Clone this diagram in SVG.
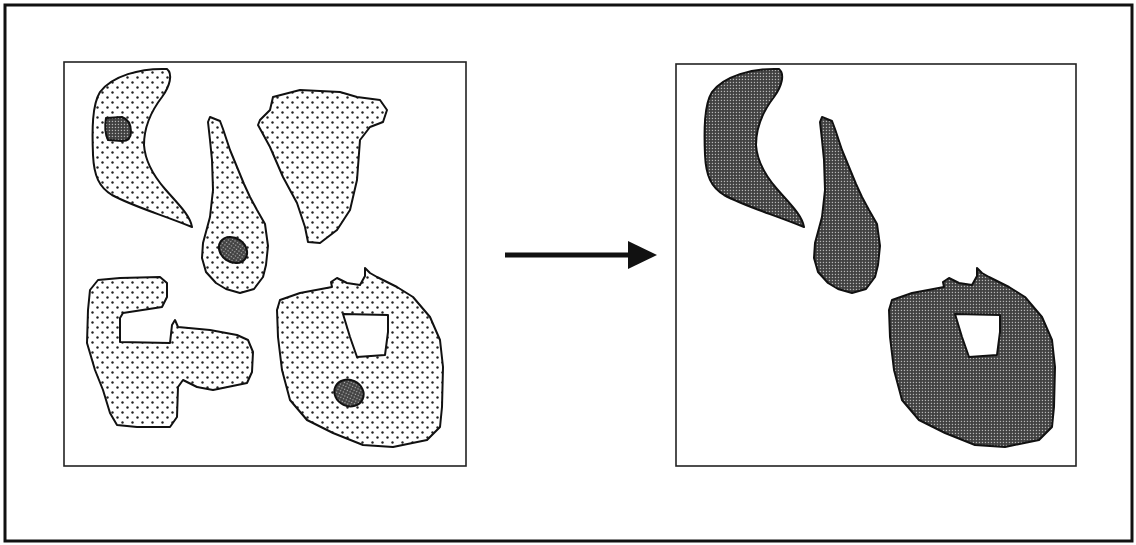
<svg xmlns="http://www.w3.org/2000/svg" width="1136" height="545" viewBox="0 0 1136 545">
<style>
.frame{fill:none;stroke:#111;stroke-width:3}
.box{fill:#fff;stroke:#222;stroke-width:1.6}
.dot{fill:url(#dots);stroke:#111;stroke-width:2;stroke-linejoin:round}
.dark{fill:url(#check);stroke:#111;stroke-width:2;stroke-linejoin:round}
.hole{fill:#fff;stroke:#111;stroke-width:2;stroke-linejoin:round}
.conn{stroke:#111;stroke-width:5;fill:none}
.head{fill:#111}
</style>
<defs>
<pattern id="dots" width="10" height="10" patternUnits="userSpaceOnUse">
<rect width="10" height="10" fill="#fff"/>
<circle cx="2.5" cy="2.5" r="1.2" fill="#222"/>
<circle cx="7.5" cy="7.5" r="1.2" fill="#222"/>
</pattern>
<pattern id="check" width="3" height="3" patternUnits="userSpaceOnUse">
<rect width="3" height="3" fill="#3e3e3e"/>
<rect x="0.8" y="0.8" width="1.3" height="1.3" fill="#b5b5b5"/>
</pattern>
<path id="boomer" d="M167,69 C140,68 112,76 100,92 C92,105 92,130 93,155 C94,176 99,187 112,195 C132,206 160,214 192,227 C190,215 178,204 165,189 C152,174 145,160 144,145 C144,125 152,110 162,97 C170,86 173,74 167,69 Z"/>
<path id="spike" d="M210,117 L220,121 L223,129 L230,150 L237,167 L244,184 L250,197 L257,210 L265,224 L268,246 L266,265 L263,277 L254,289 L240,293 L226,289 L216,283 L206,272 L202,258 L203,243 L210,217 L213,190 L212,160 L210,140 L208,122 Z"/>
<path id="blob" d="M280,300 L300,293 L332,287 L331,282 L337,278 L347,283 L360,285 L365,276 L365,268 L370,273 L377,277 L397,287 L413,297 L430,317 L440,340 L443,367 L442,407 L440,427 L427,440 L393,447 L363,445 L333,433 L307,420 L290,400 L282,370 L278,337 L277,310 Z"/>
<path id="blobhole" d="M343,314 L388,315 L388,332 L385,355 L357,357 L350,337 Z"/>
</defs>
<rect class="frame" x="5" y="5" width="1127" height="536"/>
<g id="left-panel">
<rect class="box" x="64" y="62" width="402" height="404"/>
</g>
<g id="right-panel">
<rect class="box" x="676" y="64" width="400" height="402"/>
</g>
<g id="left-boomerang">
<use href="#boomer" class="dot"/>
<path class="dark" d="M106,118 L122,117 C128,119 131,124 131,132 C131,138 128,141 122,141 L108,140 C105,134 105,124 106,118 Z"/>
</g>
<g id="left-spike">
<use href="#spike" class="dot"/>
<ellipse class="dark" cx="233" cy="250" rx="15" ry="12" transform="rotate(35 233 250)"/>
</g>
<g id="left-topright">
<path class="dot" d="M273,97 L300,90 L340,92 L357,97 L380,100 L387,110 L383,122 L370,127 L360,140 L357,180 L350,210 L337,230 L320,243 L308,242 L305,227 L297,203 L283,177 L270,147 L258,125 L260,120 L270,110 Z"/>
</g>
<g id="left-g">
<path class="dot" d="M98,280 L120,278 L160,277 L167,283 L167,297 L162,307 L123,313 L120,318 L120,342 L170,343 L172,325 L175,320 L178,327 L210,330 L237,335 L248,340 L253,352 L252,372 L247,383 L213,390 L197,387 L183,380 L178,387 L177,417 L170,427 L137,427 L117,425 L110,413 L103,390 L95,370 L87,343 L88,310 L90,290 Z"/>
</g>
<g id="left-blob">
<use href="#blob" class="dot"/>
<use href="#blobhole" class="hole"/>
<ellipse class="dark" cx="349" cy="393" rx="15" ry="13" transform="rotate(25 349 393)"/>
</g>
<g id="right-boomerang" transform="translate(612,0)">
<use href="#boomer" class="dark"/>
</g>
<g id="right-spike" transform="translate(612,0)">
<use href="#spike" class="dark"/>
</g>
<g id="right-blob" transform="translate(612,0)">
<use href="#blob" class="dark"/>
<use href="#blobhole" class="hole"/>
</g>
<g id="connectors">
<line class="conn" x1="505" y1="255" x2="630" y2="255"/>
<polygon class="head" points="628,241 657,255 628,269"/>
</g>
</svg>
